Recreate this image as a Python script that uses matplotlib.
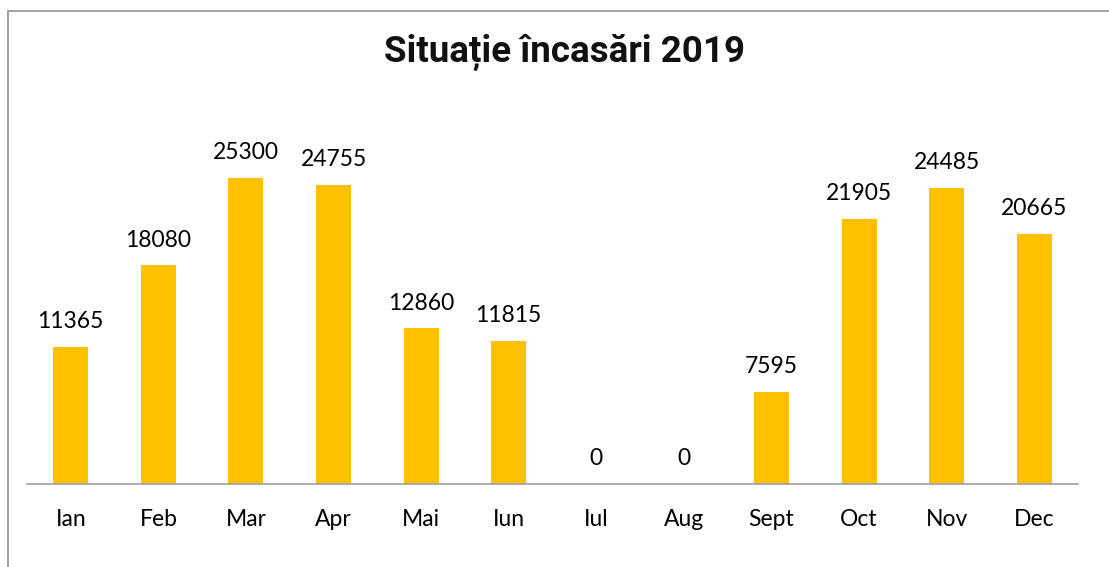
import matplotlib

matplotlib.use("Agg")
import matplotlib.pyplot as plt
from matplotlib.patches import Rectangle

months = ["Ian", "Feb", "Mar", "Apr", "Mai", "Iun", "Iul", "Aug", "Sept", "Oct", "Nov", "Dec"]
income = [11365, 18080, 25300, 24755, 12860, 11815, 0, 0, 7595, 21905, 24485, 20665]

BAR_COLOR = "#FFC000"
LABEL_FONT = ["Lato", "DejaVu Sans"]

W, H = 1109, 567
fig = plt.figure(figsize=(W / 100, H / 100), dpi=100)

# chart area frame, cropped at the right and bottom like the screenshot
fig.patches.append(
    Rectangle((8 / W, -0.1), 1.2, 1 - 11 / H + 0.1, transform=fig.transFigure,
              fill=False, edgecolor="#9a9a9a", linewidth=1.3)
)

ax = fig.add_axes([27 / W, (H - 484) / H, (1078 - 27) / W, (484 - 110) / H])
x = range(len(months))
ax.bar(x, income, width=0.4, color=BAR_COLOR)
ax.set_xlim(-0.5, len(months) - 0.5)
ax.set_ylim(0, 25300 * 374 / 306)

for xi, v in zip(x, income):
    ax.annotate(f"{v}", (xi, v), xytext=(0, 13.5), textcoords="offset points",
                ha="center", va="baseline", fontsize=16.5, family=LABEL_FONT, color="#000000")

ax.set_xticks(list(x))
ax.set_xticklabels(months, fontsize=16.5, family=LABEL_FONT, color="#000000")
ax.tick_params(axis="x", length=0, pad=18)
ax.set_yticks([])
for side in ["top", "right", "left"]:
    ax.spines[side].set_visible(False)
ax.spines["bottom"].set_color("#a0a0a0")
ax.spines["bottom"].set_linewidth(1.2)

fig.text(564 / W, 1 - 62 / H, "Situație încasări 2019", ha="center", va="baseline",
         fontsize=26.5, fontweight="bold", family=["Roboto", "DejaVu Sans"], color="#111111")

fig.savefig("out.png", dpi=100)
